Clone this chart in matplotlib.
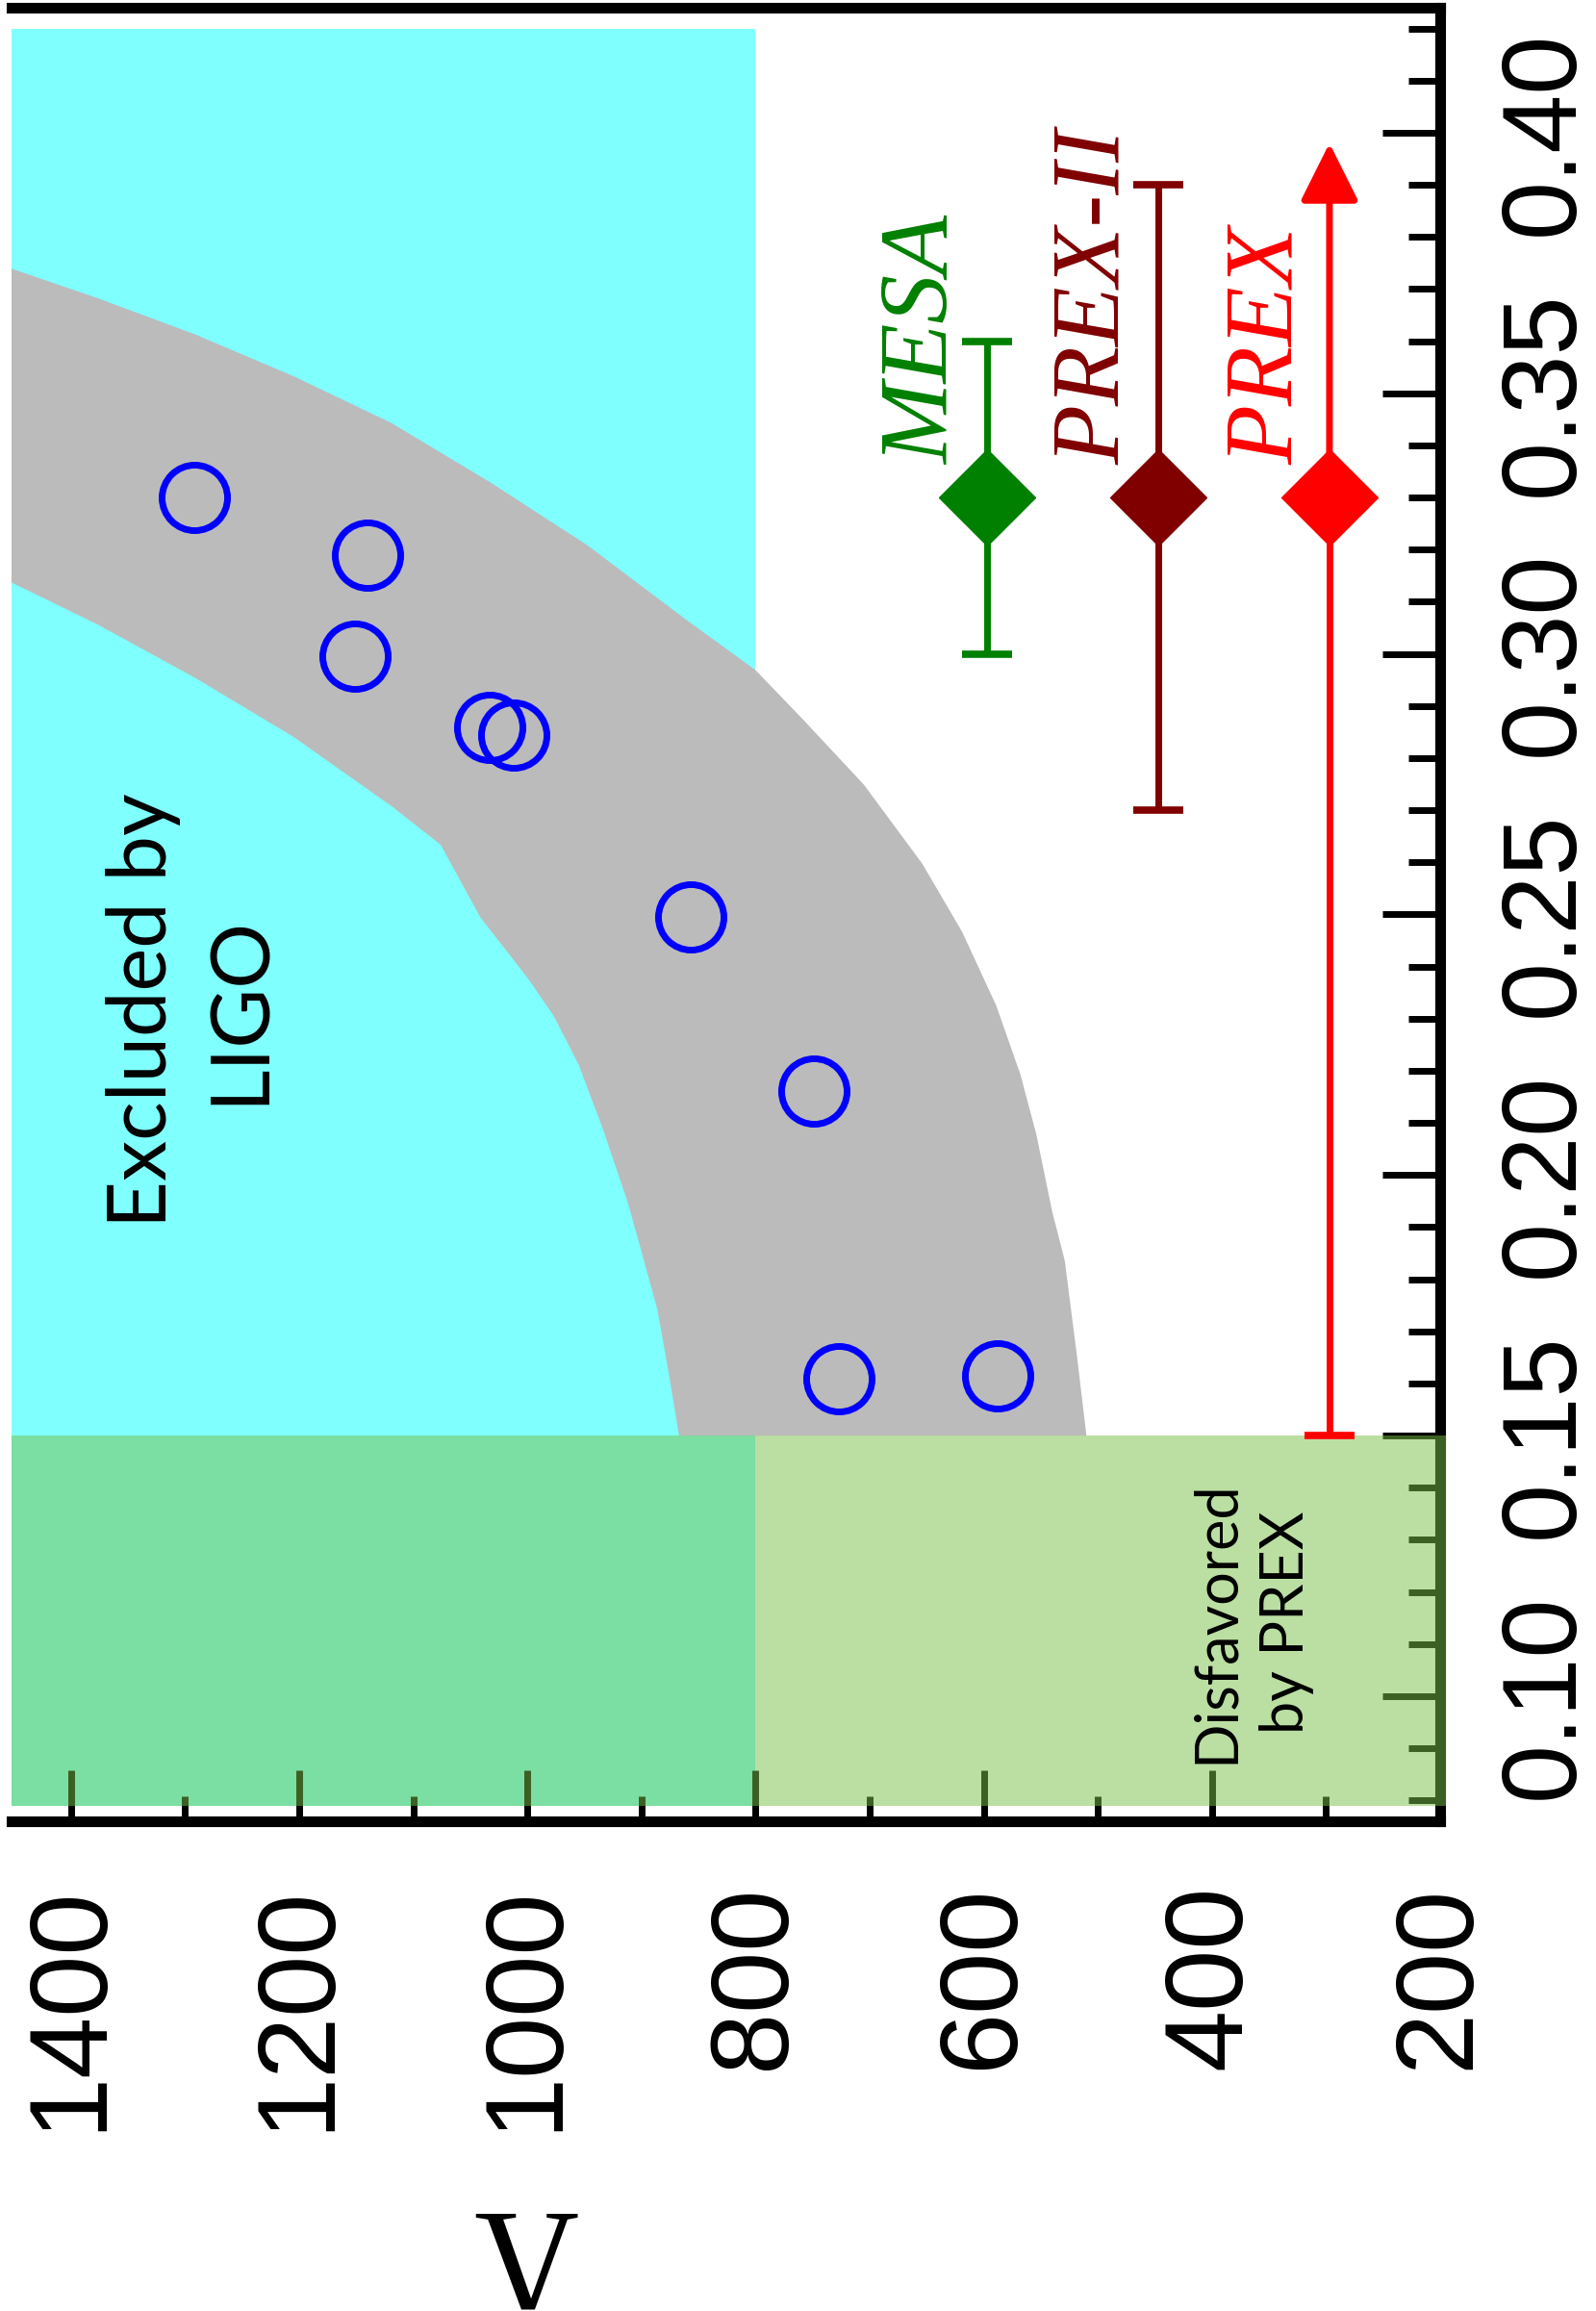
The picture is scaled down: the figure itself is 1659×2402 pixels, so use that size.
import matplotlib
matplotlib.use("Agg")
import matplotlib.pyplot as plt
from matplotlib import font_manager
from matplotlib.ticker import MultipleLocator, FormatStrFormatter

# neutron-skin band: outer (upper) and inner (lower) edges, (Lambda, R_skin)
band_outer_lam = [1490, 1453, 1377, 1291, 1205, 1119, 1033, 947, 861, 800, 757, 705,
                  654, 619, 589, 568, 554, 540, 529, 518, 510]
band_outer_r = [0.377, 0.374, 0.3683, 0.3613, 0.3533, 0.3443, 0.3330, 0.3208, 0.3066,
                0.2969, 0.2871, 0.2749, 0.2598, 0.2467, 0.2325, 0.2194, 0.2079, 0.1930,
                0.1836, 0.1648, 0.150]
band_inner_lam = [1490, 1452, 1377, 1291, 1205, 1119, 1076, 1041, 1011, 998, 977, 955,
                  934, 912, 900, 886, 876, 867]
band_inner_r = [0.318, 0.3137, 0.3057, 0.2954, 0.2841, 0.2708, 0.2634, 0.2494, 0.2410,
                0.2373, 0.2306, 0.2212, 0.2090, 0.1948, 0.1854, 0.1742, 0.1619, 0.150]

# model points
model_lam = [1292, 1140, 1151, 1033, 1012, 857, 749, 727, 588]
model_r = [0.330, 0.319, 0.2996, 0.286, 0.2845, 0.2496, 0.2162, 0.1609, 0.1614]

# experiments
exp_names = ["MESA", "PREX-II", "PREX"]
exp_colors = ["#008000", "#800000", "#ff0000"]
exp_lam = [597, 447, 297]
exp_r = [0.33, 0.33, 0.33]
exp_lo = [0.30, 0.27, 0.15]
exp_hi = [0.36, 0.39, 0.398]
label_lam = [651, 501, 349]
label_r = 0.3363

# regions
ligo_lam_min = 800
ligo_r = (0.079, 0.42)
prex_r = (0.079, 0.15)

xlim = (1452, 200)
ylim = (0.076, 0.424)

avail = {f.name for f in font_manager.fontManager.ttflist}


def pick(names, default):
    for n in names:
        if n in avail:
            return n
    return default


sans = pick(["Liberation Sans", "Arimo", "Nimbus Sans", "Arial", "Helvetica"], "DejaVu Sans")
serif = pick(["Liberation Serif", "Tinos", "Nimbus Roman", "Times New Roman"], "DejaVu Serif")
label_font = pick(["Lato", "Open Sans"], "DejaVu Sans")
plt.rcParams["font.family"] = sans

fig = plt.figure(figsize=(16.59, 24.02), dpi=100)
ax = fig.add_axes([12 / 1659, 1 - 1893 / 2402, (1497 - 12) / 1659, (1893 - 8) / 2402])

ax.fill_between([ligo_lam_min, 1500], ligo_r[0], ligo_r[1], color="#80ffff", lw=0, zorder=1)
ax.fill(band_outer_lam + band_inner_lam[::-1], band_outer_r + band_inner_r[::-1],
        color="#bbbbbb", lw=0, zorder=1.2)
ax.axhspan(prex_r[0], prex_r[1], xmin=0, xmax=1.004, color=(120 / 255, 190 / 255, 70 / 255),
           alpha=0.5, lw=0, zorder=2.6, clip_on=False)

ax.plot(model_lam, model_r, "o", ms=49, mfc="none", mec="#0000ff", mew=5, zorder=3)

for i in range(3):
    if exp_names[i] == "PREX":
        ax.errorbar(exp_lam[i], exp_r[i], yerr=[[exp_r[i] - exp_lo[i]], [0]], fmt="D", ms=51,
                    color=exp_colors[i], elinewidth=5, capsize=19, capthick=5.5, zorder=4)
        ax.annotate("", xy=(exp_lam[i], exp_hi[i]), xytext=(exp_lam[i], exp_r[i]),
                    arrowprops=dict(arrowstyle="-|>", color=exp_colors[i], lw=5,
                                    mutation_scale=93, shrinkA=0, shrinkB=0), zorder=4)
    else:
        ax.errorbar(exp_lam[i], exp_r[i], yerr=[[exp_r[i] - exp_lo[i]], [exp_hi[i] - exp_r[i]]],
                    fmt="D", ms=51, color=exp_colors[i], elinewidth=5, capsize=19,
                    capthick=5.5, zorder=4)
    ax.text(label_lam[i], label_r, exp_names[i], color=exp_colors[i], rotation=90,
            ha="center", va="bottom", fontsize=73, family=serif, style="italic", zorder=5)

ax.text(1294, 0.2317, "Excluded by\nLIGO", rotation=90, ha="center", va="center",
        multialignment="center", fontsize=61, family=label_font, linespacing=1.35, zorder=5)
ax.text(365, 0.1142, "Disfavored\nby PREX", rotation=90, ha="center", va="center",
        multialignment="center", fontsize=44, family=label_font, linespacing=1.35, zorder=5)

ax.set_xlim(*xlim)
ax.set_ylim(*ylim)

ax.xaxis.set_major_locator(MultipleLocator(200))
ax.xaxis.set_minor_locator(MultipleLocator(100))
ax.yaxis.set_major_locator(MultipleLocator(0.05))
ax.yaxis.set_minor_locator(MultipleLocator(0.01))
ax.yaxis.set_major_formatter(FormatStrFormatter("%.2f"))
ax.yaxis.tick_right()

ax.spines["left"].set_visible(False)
for s in ["top", "right", "bottom"]:
    ax.spines[s].set_linewidth(8)

ax.tick_params(axis="x", which="major", direction="in", length=38, width=5, pad=47,
               labelsize=83, labelrotation=90)
ax.tick_params(axis="x", which="minor", direction="in", length=19, width=5)
ax.tick_params(axis="y", which="major", direction="in", length=43, width=5, pad=42,
               labelsize=79, labelrotation=90, left=False, right=True)
ax.tick_params(axis="y", which="minor", direction="in", length=24, width=5,
               left=False, right=True)
for lbl in ax.get_yticklabels():
    lbl.set_va("center")

ax.set_xlabel("Λ", rotation=180, fontsize=108, family=serif, va="center")
ax.xaxis.set_label_coords(0.359, -0.2345)

fig.savefig("out.png", dpi=100)
